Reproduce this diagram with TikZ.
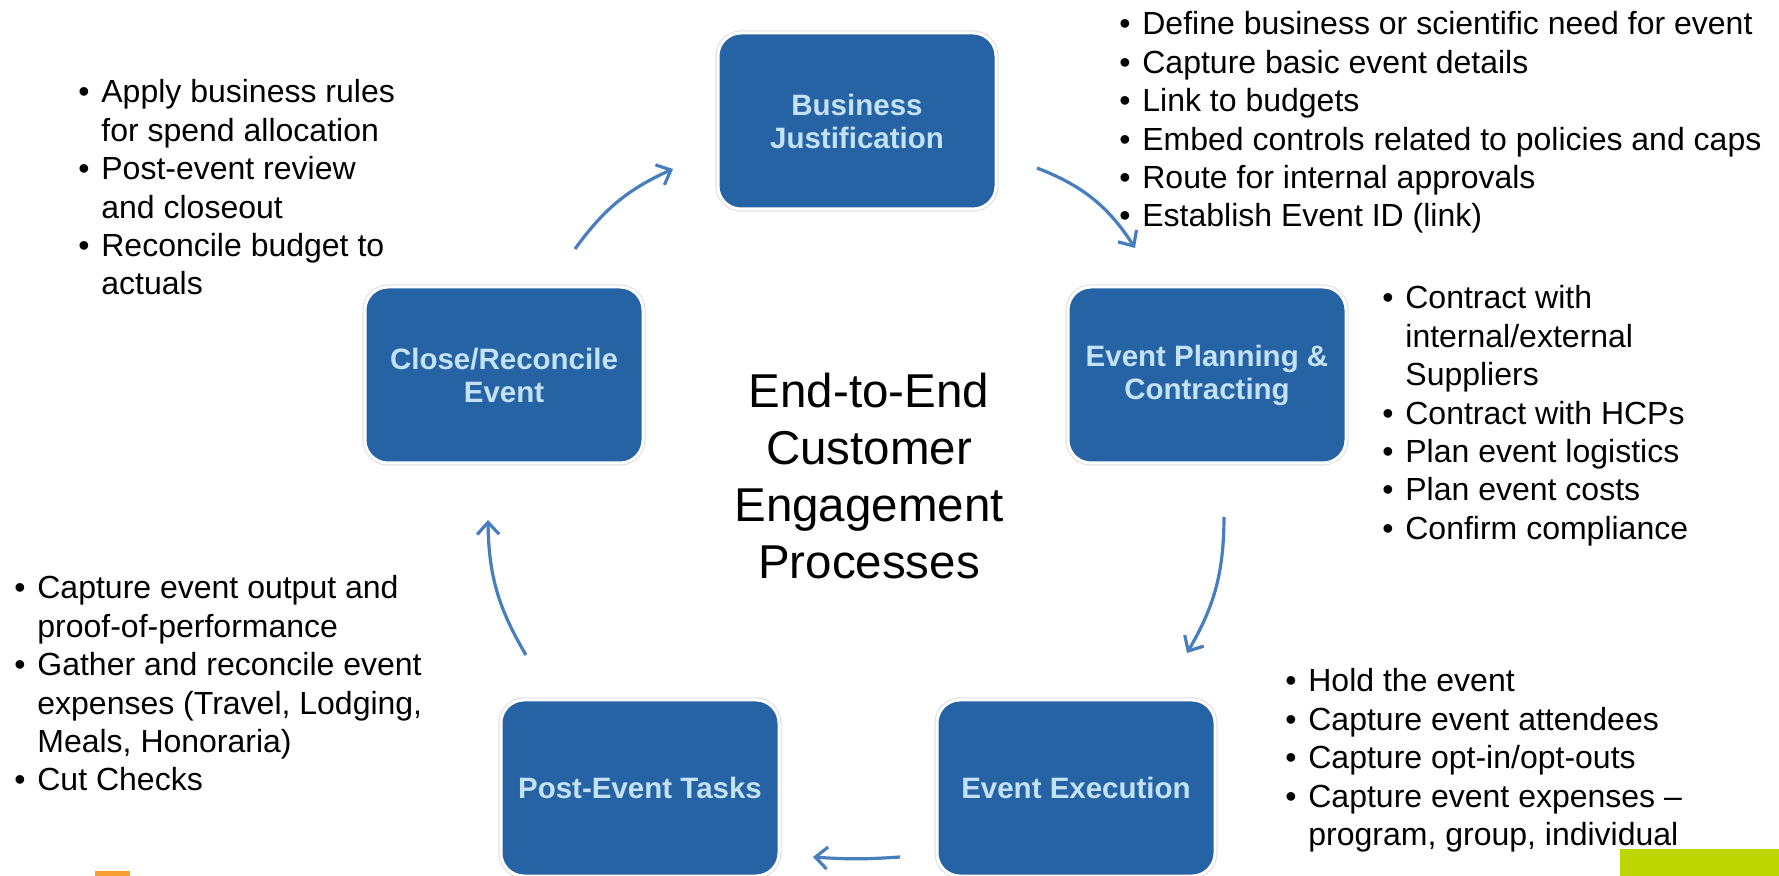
\documentclass[tikz,border=0pt]{standalone}
\usepackage{fontspec}
\setmainfont{Liberation Sans}
\usetikzlibrary{arrows.meta}

\definecolor{stageblue}{RGB}{37,99,165}
\definecolor{stagetext}{RGB}{196,226,246}
\definecolor{flowblue}{RGB}{70,126,190}
\definecolor{limegreen}{RGB}{190,214,0}
\definecolor{tabgold}{RGB}{247,160,50}

\tikzset{
  stage/.style={rectangle, rounded corners=11.5pt, fill=stageblue, draw=white, line width=1.5pt,
    preaction={draw=black!12, line width=2.6pt},
    minimum width=139pt, minimum height=88pt, inner sep=0pt,
    text=stagetext, align=center, font=\fontsize{14.75pt}{16.5pt}\selectfont\bfseries},
  notes/.style={anchor=base west, inner sep=0pt, font=\fontsize{16pt}{19.2pt}\selectfont},
  hub/.style={anchor=base, inner sep=0pt, font=\fontsize{23.75pt}{28.35pt}\selectfont},
  flow/.style={draw=flowblue, line width=1.6pt, -{Straight Barb[length=6pt,width=11pt]}},
}

\begin{document}
\begin{tikzpicture}[x=0.5pt, y=0.5pt]

    \useasboundingbox (0,0) rectangle (1779,-876);

    % process stages
    \node[stage] (bj)  at (857,-121)  {Business\\Justification};
    \node[stage] (ep)  at (1207,-375) {Event Planning \&\\Contracting};
    \node[stage] (ee)  at (1076,-788) {Event Execution};
    \node[stage] (pet) at (640,-788)  {Post-Event Tasks};
    \node[stage] (cr)  at (504,-375)  {Close/Reconcile\\Event};

    % centre title
    \node[hub] (hub) at (869,-408) {\begin{tabular}[t]{@{}c@{}}End-to-End\\Customer\\Engagement\\Processes\end{tabular}};

    % arrows between stages
    \coordinate (cr-out)  at (575,-249);
    \coordinate (bj-in)   at (673,-169);
    \coordinate (bj-out)  at (1037,-168);
    \coordinate (ep-in)   at (1135,-248);
    \coordinate (ep-out)  at (1224,-517);
    \coordinate (ee-in)   at (1187,-653);
    \coordinate (ee-out)  at (900,-857);
    \coordinate (pet-in)  at (813,-857);
    \coordinate (pet-out) at (526,-655);
    \coordinate (cr-in)   at (488,-520);

    \draw[flow] (cr-out) to[bend left=15] (bj-in);
    \draw[flow] (bj-out) to[bend left=18] (ep-in);
    \draw[flow] (ep-out) to[bend left=15] (ee-in);
    \draw[flow] (ee-out) to[bend left=4] (pet-in);
    \draw[flow] (pet-out) to[bend left=15] (cr-in);

    % notes for each stage
    \node[notes] (bj-notes) at (1119,-35) {\begin{tabular}[t]{@{}p{11.5pt}@{}l@{}}
      \textbullet & Define business or scientific need for event\\
      \textbullet & Capture basic event details\\
      \textbullet & Link to budgets\\
      \textbullet & Embed controls related to policies and caps\\
      \textbullet & Route for internal approvals\\
      \textbullet & Establish Event ID (link)
    \end{tabular}};

    \node[notes] (ep-notes) at (1382,-309) {\begin{tabular}[t]{@{}p{11.5pt}@{}l@{}}
      \textbullet & Contract with\\
                  & internal/external\\
                  & Suppliers\\
      \textbullet & Contract with HCPs\\
      \textbullet & Plan event logistics\\
      \textbullet & Plan event costs\\
      \textbullet & Confirm compliance
    \end{tabular}};

    \node[notes] (ee-notes) at (1285,-692) {\begin{tabular}[t]{@{}p{11.5pt}@{}l@{}}
      \textbullet & Hold the event\\
      \textbullet & Capture event attendees\\
      \textbullet & Capture opt-in/opt-outs\\
      \textbullet & Capture event expenses –\\
                  & program, group, individual
    \end{tabular}};

    \node[notes] (pet-notes) at (14,-599) {\begin{tabular}[t]{@{}p{11.5pt}@{}l@{}}
      \textbullet & Capture event output and\\
                  & proof-of-performance\\
      \textbullet & Gather and reconcile event\\
                  & expenses (Travel, Lodging,\\
                  & Meals, Honoraria)\\
      \textbullet & Cut Checks
    \end{tabular}};

    \node[notes] (cr-notes) at (78,-103) {\begin{tabular}[t]{@{}p{11.5pt}@{}l@{}}
      \textbullet & Apply business rules\\
                  & for spend allocation\\
      \textbullet & Post-event review\\
                  & and closeout\\
      \textbullet & Reconcile budget to\\
                  & actuals
    \end{tabular}};

    % page furniture
    \fill[tabgold] (95,-871) rectangle (130,-880);
    \fill[limegreen] (1620,-849) rectangle (1779,-876);

\end{tikzpicture}
\end{document}
